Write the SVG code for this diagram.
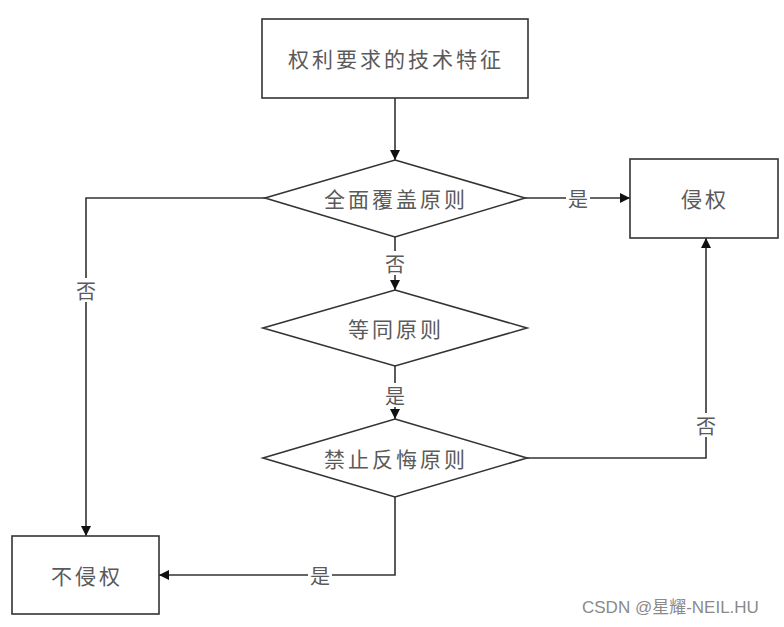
<svg xmlns="http://www.w3.org/2000/svg" width="784" height="627" viewBox="0 0 784 627">
<style>
.box{fill:#fff;stroke:#333;stroke-width:1.6}
.ln{fill:none;stroke:#333;stroke-width:1.6}
.t{font-family:"Noto Sans CJK SC","Liberation Sans",sans-serif;font-size:21px;fill:#5a5a5a;text-anchor:middle;dominant-baseline:central;letter-spacing:3px}
.lb{font-family:"Noto Sans CJK SC","Liberation Sans",sans-serif;font-size:20px;fill:#5a5a5a;text-anchor:middle;dominant-baseline:central}
.bg{fill:#fff}
.wm{font-family:"Liberation Sans","Noto Sans CJK SC",sans-serif;font-size:17px;fill:#8a8a8a}
</style>
<defs>
<marker id="ah" viewBox="0 0 10 10" refX="10" refY="5" markerWidth="10" markerHeight="10" markerUnits="userSpaceOnUse" orient="auto">
<path d="M0,0 L10,5 L0,10 z" fill="#111"/>
</marker>
</defs>
<g id="connectors">
<path class="ln" d="M395,98 V160" marker-end="url(#ah)"/>
<path class="ln" d="M525,198 H630" marker-end="url(#ah)"/>
<path class="ln" d="M265,198 H86 V536" marker-end="url(#ah)"/>
<path class="ln" d="M395,237 V290" marker-end="url(#ah)"/>
<path class="ln" d="M395,366 V419" marker-end="url(#ah)"/>
<path class="ln" d="M527,458 H706 V238" marker-end="url(#ah)"/>
<path class="ln" d="M395,497 V575 H159" marker-end="url(#ah)"/>
<rect class="bg" x="566" y="186" width="24" height="24"/>
<text class="lb" x="578" y="198">是</text>
<rect class="bg" x="74" y="278" width="24" height="24"/>
<text class="lb" x="86" y="290">否</text>
<rect class="bg" x="383" y="251" width="24" height="24"/>
<text class="lb" x="395" y="263">否</text>
<rect class="bg" x="383" y="383" width="24" height="24"/>
<text class="lb" x="395" y="395">是</text>
<rect class="bg" x="694" y="413" width="24" height="24"/>
<text class="lb" x="706" y="425">否</text>
<rect class="bg" x="308" y="563" width="24" height="24"/>
<text class="lb" x="320" y="575">是</text>
</g>
<g id="n1"><rect class="box" x="262" y="19" width="266" height="79"/><text class="t" x="396" y="58">权利要求的技术特征</text></g>
<g id="n2"><polygon class="box" points="395,160 525,198 395,237 265,198"/><text class="t" x="396" y="198">全面覆盖原则</text></g>
<g id="n3"><rect class="box" x="630" y="159" width="148" height="79"/><text class="t" x="705" y="198">侵权</text></g>
<g id="n4"><polygon class="box" points="395,290 527,328 395,366 263,328"/><text class="t" x="396" y="328">等同原则</text></g>
<g id="n5"><polygon class="box" points="395,419 527,458 395,497 263,458"/><text class="t" x="396" y="458">禁止反悔原则</text></g>
<g id="n6"><rect class="box" x="12" y="536" width="147" height="78"/><text class="t" x="87" y="575">不侵权</text></g>
<text class="wm" x="582" y="613">CSDN @星耀-NEIL.HU</text>
</svg>
